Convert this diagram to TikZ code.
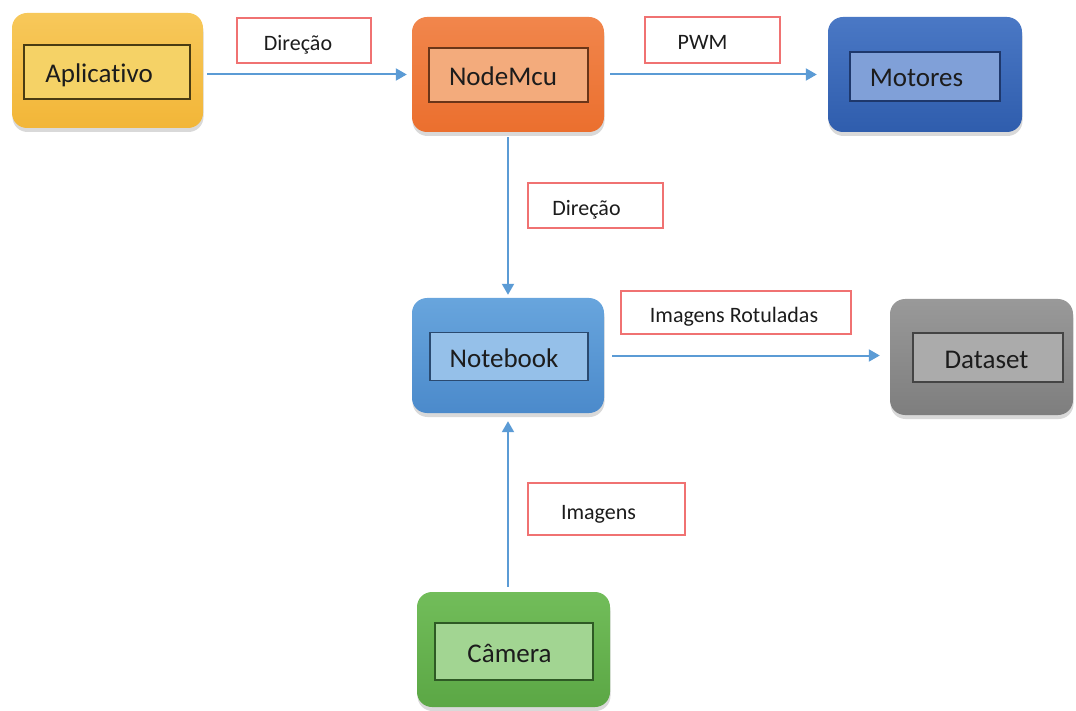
\documentclass[tikz,border=0pt]{standalone}
\usepackage{fontspec}
\setmainfont{Carlito}[Ligatures=NoCommon]
\usetikzlibrary{arrows.meta,shadows,calc}

\definecolor{flowblue}{HTML}{5B9BD5}
\definecolor{notered}{HTML}{F07272}
\definecolor{ink}{HTML}{1C1C1C}
% block colours: outer top, outer bottom, panel fill, panel border
\definecolor{appT}{HTML}{F7C85A}\definecolor{appB}{HTML}{F2B638}
\definecolor{appF}{HTML}{F5D266}\definecolor{appD}{HTML}{4A3C12}
\definecolor{mcuT}{HTML}{F1864C}\definecolor{mcuB}{HTML}{EB6F2E}
\definecolor{mcuF}{HTML}{F3AB7C}\definecolor{mcuD}{HTML}{6A3518}
\definecolor{motT}{HTML}{4A78C5}\definecolor{motB}{HTML}{2F5DAD}
\definecolor{motF}{HTML}{80A0D8}\definecolor{motD}{HTML}{1E386C}
\definecolor{nbT}{HTML}{68A5DD}\definecolor{nbB}{HTML}{4B8ACB}
\definecolor{nbF}{HTML}{95C0E9}\definecolor{nbD}{HTML}{2A4A70}
\definecolor{dsT}{HTML}{999999}\definecolor{dsB}{HTML}{7E7E7E}
\definecolor{dsF}{HTML}{ABABAB}\definecolor{dsD}{HTML}{444444}
\definecolor{camT}{HTML}{72BD5A}\definecolor{camB}{HTML}{5BA745}
\definecolor{camF}{HTML}{A2D592}\definecolor{camD}{HTML}{2E5A24}

\begin{document}
\begin{tikzpicture}[x=1pt,y=-1pt,
  block/.style={rounded corners=15pt, inner sep=0pt, minimum width=192pt, minimum height=115pt,
    drop shadow={opacity=0.3, shadow xshift=0.5pt, shadow yshift=-4pt}},
  tag/.style={draw=#1, line width=1.3pt, inner sep=0pt, text=ink,
    font=\fontsize{27}{30}\selectfont, text height=21pt, text depth=0pt},
  note/.style={draw=notered, fill=white, line width=1.4pt, inner sep=0pt, text=ink,
    font=\fontsize{22}{24}\selectfont, text height=20pt, text depth=0pt},
  % pulls the text left of the centre by half the given amount
  nudge/.style={execute at end node={\hspace*{#1}}},
  flow/.style={draw=flowblue, line width=2pt, -{Triangle[length=11pt,width=12pt]}}
]
\useasboundingbox (0,0) rectangle (1076,711);

% outer blocks
\node[block, minimum width=191pt, top color=appT, bottom color=appB] (appbox) at (107.5,70.5) {};
\node[block, top color=mcuT, bottom color=mcuB] (mcubox) at (508,74.5) {};
\node[block, minimum width=194pt, top color=motT, bottom color=motB] (motbox) at (925,74.5) {};
\node[block, top color=nbT, bottom color=nbB] (nbbox) at (508,355.5) {};
\node[block, minimum width=183pt, minimum height=116pt, top color=dsT, bottom color=dsB] (dsbox) at (981.5,357) {};
\node[block, minimum width=193pt, top color=camT, bottom color=camB] (cambox) at (513.5,649.5) {};

% inner labelled panels
\node[tag=appD, fill=appF, minimum width=166pt, minimum height=54pt, nudge=16pt] (app) at (107,72) {Aplicativo};
\node[tag=mcuD, fill=mcuF, minimum width=159pt, minimum height=54pt, nudge=11pt] (mcu) at (508.5,75) {NodeMcu};
\node[tag=motD, fill=motF, minimum width=150pt, minimum height=49pt, nudge=17pt] (mot) at (925,76.5) {Motores};
\node[tag=nbD, fill=nbF, minimum width=158pt, minimum height=48pt, nudge=10pt] (nb) at (509,356.5) {Notebook};
\node[tag=dsD, fill=dsF, minimum width=150pt, minimum height=49pt, nudge=3pt] (ds) at (988,357.5) {Dataset};
\node[tag=camD, fill=camF, minimum width=158pt, minimum height=57pt, nudge=9pt] (cam) at (514,651.5) {Câmera};

% connector captions
\node[note, minimum width=134pt, minimum height=45pt, nudge=12pt] (n1) at (304,40.5) {Direção};
\node[note, minimum width=135pt, minimum height=46pt, nudge=20pt] (n2) at (712.5,40) {PWM};
\node[note, minimum width=135pt, minimum height=45pt, nudge=18pt] (n3) at (595.5,205.5) {Direção};
\node[note, minimum width=230pt, minimum height=43pt, nudge=4pt] (n4) at (736,312.5) {Imagens Rotuladas};
\node[note, minimum width=157pt, minimum height=52pt, nudge=16pt] (n5) at (606.5,509) {Imagens};

% connectors
\draw[flow, shorten <=4pt, shorten >=5pt] (appbox.east |- mcubox.west) -- (mcubox.west);
\draw[flow, shorten <=6pt, shorten >=11pt] (mcubox.east) -- (motbox.west);
\draw[flow, shorten <=5pt, shorten >=3pt] (mcubox.south) -- (nbbox.north);
\draw[flow, shorten <=8pt, shorten >=10pt] (nbbox.east) -- (nbbox.east -| dsbox.west);
\draw[flow, shorten <=5pt, shorten >=8pt] (cambox.north -| nbbox.south) -- (nbbox.south);
\end{tikzpicture}
\end{document}
